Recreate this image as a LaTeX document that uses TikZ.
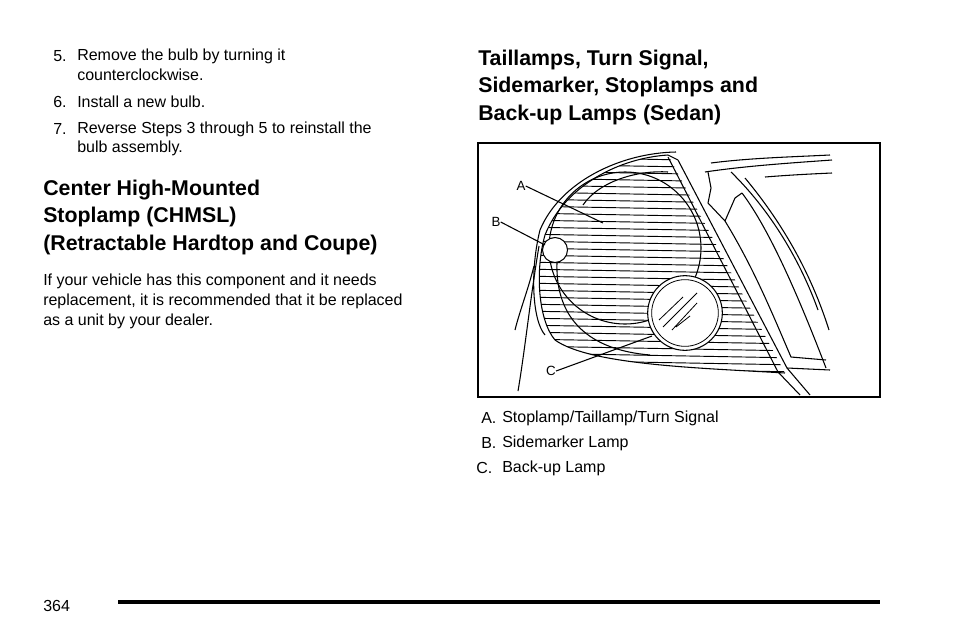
\documentclass[tikz,border=0pt]{standalone}
\usepackage{fontspec}
\setmainfont{Liberation Sans}
\begin{document}
\begin{tikzpicture}[x=0.75pt, y=-0.75pt,
    body/.style={anchor=west, inner sep=0pt, font=\fontsize{12}{14}\selectfont},
    head/.style={anchor=west, inner sep=0pt, font=\fontsize{16}{19}\selectfont\bfseries},
    lbl/.style={anchor=center, inner sep=0pt, font=\fontsize{10}{12}\selectfont},
    art/.style={line width=0.8pt, line join=round},
    leader/.style={line width=0.8pt}]

    % --- page margins ---
    \useasboundingbox (0,0) rectangle (954,636);

    % --- left column ---
    \node[body] (n5) at (53,56) {5.};
    \node[body] (t5a) at (77,56) {Remove the bulb by turning it};
    \node[body] (t5b) at (77,75) {counterclockwise.};
    \node[body] (n6) at (53,102) {6.};
    \node[body] (t6) at (77,102) {Install a new bulb.};
    \node[body] (n7) at (53,129) {7.};
    \node[body] (t7a) at (77,129) {Reverse Steps 3 through 5 to reinstall the};
    \node[body] (t7b) at (77,148) {bulb assembly.};

    \node[head] (h1a) at (43,190) {Center High-Mounted};
    \node[head] (h1b) at (43,217) {Stoplamp (CHMSL)};
    \node[head] (h1c) at (43,245) {(Retractable Hardtop and Coupe)};

    \node[body] (p1) at (43,281) {If your vehicle has this component and it needs};
    \node[body] (p2) at (43,301) {replacement, it is recommended that it be replaced};
    \node[body] (p3) at (43,321) {as a unit by your dealer.};

    % --- right column ---
    \node[head] (h2a) at (478,60) {Taillamps, Turn Signal,};
    \node[head] (h2b) at (478,87) {Sidemarker, Stoplamps and};
    \node[head] (h2c) at (478,115) {Back-up Lamps (Sedan)};

    \node[body] (ca) at (481,418) {A.};
    \node[body] (cat) at (502,418) {Stoplamp/Taillamp/Turn Signal};
    \node[body] (cb) at (481,443) {B.};
    \node[body] (cbt) at (502,443) {Sidemarker Lamp};
    \node[body] (cc) at (476,468) {C.};
    \node[body] (cct) at (502,468) {Back-up Lamp};

    % --- illustration ---
    \draw[line width=1.2pt] (478,143) rectangle (880,397);
    \begin{scope}
      \clip (479,144) rectangle (879,396);
      % car body at right
      \draw[art] (711,163) .. controls (750,158) and (790,157) .. (830,155);
      \draw[art] (705,172) .. controls (745,166) and (790,163) .. (832,160);
      \draw[art] (765,177) .. controls (790,175) and (810,174) .. (832,173);
      \draw[art] (708,172) -- (711,188) -- (708,203) -- (725,221) -- (735,198) -- (742,193);
      \draw[art] (742,193) .. controls (770,230) and (800,300) .. (826,368);
      \draw[art] (725,221) .. controls (755,270) and (775,320) .. (791,357) -- (826,360);
      \draw[art] (745,178) .. controls (780,220) and (810,270) .. (829,330);
      \draw[art] (731,172) .. controls (770,210) and (800,260) .. (818,310);
      \draw[art] (787,368) -- (830,370);
      % lamp housing
      \draw[art] (668,157) -- (778,372) -- (800,395);
      \draw[art] (678,160) -- (787,368) -- (810,395);
      \begin{scope}
        \clip (668,155) .. controls (620,158) and (565,185) .. (545,235)
          .. controls (535,270) and (538,320) .. (555,340)
          .. controls (590,365) and (700,368) .. (785,373) -- cycle;
        \foreach \yy in {150,157,...,380}
          \draw[line width=0.7pt] (520,\yy) -- (800,\yy+5);
      \end{scope}
      \draw[art] (668,155) .. controls (620,158) and (565,185) .. (545,235)
        .. controls (535,270) and (538,320) .. (555,340)
        .. controls (590,365) and (700,368) .. (785,373);
      \draw[art] (676,152) .. controls (620,153) and (560,182) .. (540,230)
        .. controls (530,270) and (532,320) .. (545,335);
      \draw[art] (668,155) -- (678,160);
      % fender lines
      \draw[art] (539,246) .. controls (530,300) and (525,350) .. (518,391);
      \draw[art] (534,266) .. controls (528,290) and (520,310) .. (515,330);
      % inner reflector outlines
      \draw[art] (557,262) .. controls (555,320) and (590,350) .. (650,355);
      \draw[art] (583,205) .. controls (600,180) and (640,170) .. (668,172);
      % lamp A
      \node[circle, draw, line width=0.8pt, minimum size=114pt*0.75/0.75, inner sep=0pt, fill=none] (lampA) at (625,248) {};
      % lamp B
      \node[circle, draw, line width=0.8pt, fill=white, minimum size=25pt*0.75, inner sep=0pt] (lampB) at (555,250) {};
      % lamp C
      \node[circle, draw, line width=0.8pt, fill=white, minimum size=56pt, inner sep=0pt] (lampC) at (685,313) {};
      \node[circle, draw, line width=0.6pt, minimum size=50pt, inner sep=0pt] (lampCin) at (685,313) {};
      \draw[line width=0.6pt] (659,320) -- (683,297) (663,327) -- (697,293) (672,330) -- (697,303) (676,327) -- (690,316);
    \end{scope}

    % --- labels and leaders ---
    \node[lbl] (labA) at (521,186) {A};
    \node[lbl] (labB) at (496,222) {B};
    \node[lbl] (labC) at (551,371) {C};
    \coordinate (ptA) at (603,223);
    \coordinate (ptB) at (545,245);
    \coordinate (ptC) at (652,336);
    \draw[leader] (labA.east) -- (ptA);
    \draw[leader] (labB.east) -- (ptB);
    \draw[leader] (labC.east) -- (ptC);

    % --- footer ---
    \node[body] (pg) at (43,606) {364};
    \draw[line width=2.6pt] (118,602) -- (880,602);

\end{tikzpicture}
\end{document}
